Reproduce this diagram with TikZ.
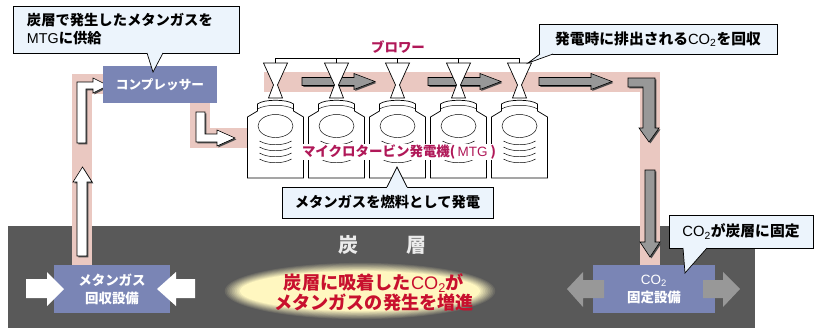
\documentclass[tikz,border=0pt]{standalone}
\usepackage{fontspec}
\setmainfont{Noto Sans CJK JP}
\newfontfamily\latin{Liberation Sans}
\usetikzlibrary{shadows}

\definecolor{unitblue}{RGB}{122,133,181}
\definecolor{bandpink}{RGB}{234,200,193}
\definecolor{seamgray}{RGB}{89,89,89}
\definecolor{notefill}{RGB}{236,244,252}
\definecolor{mtgred}{RGB}{176,24,88}
\definecolor{glowred}{RGB}{200,16,46}
\definecolor{glowyellow}{RGB}{255,247,192}
\definecolor{flowgray}{RGB}{152,152,152}

\begin{document}
\begin{tikzpicture}[x=0.03cm, y=-0.03cm, every node/.style={inner sep=0pt},
  band/.style={draw=bandpink, line width=0.6cm},
  unit/.style={fill=unitblue, text=white, align=center, font=\fontsize{11.5pt}{15.4pt}\selectfont\bfseries},
  note/.style={draw=black, fill=notefill, line width=0.6pt, align=center, font=\fontsize{12.2pt}{15.4pt}\selectfont\bfseries},
  wflow/.style={draw=black, fill=white, line width=0.5pt,
    drop shadow={shadow xshift=1.2pt, shadow yshift=-1.2pt, fill=black!70, opacity=1}},
  gflow/.style={wflow, fill=flowgray},
  mtg/.style={draw=black, fill=white, line width=0.6pt},
  tag/.style={text=mtgred, font=\fontsize{11.5pt}{14pt}\selectfont\bfseries}]
\useasboundingbox (0,0) rectangle (814,328);

% coal seam and glow
\fill[seamgray] (8,226) rectangle (755,328);
\foreach \k in {0,...,10}
  \fill[glowyellow!\k0!seamgray] (360,291) ellipse ({137-1.7*\k} and {29-0.9*\k});
\node[text=white!92!black, font=\fontsize{17pt}{20pt}\selectfont\bfseries] (seam) at (382.5,245) {炭\hspace{2.45em}層};
\node[text=glowred, align=center, font=\fontsize{15.5pt}{17pt}\selectfont\bfseries] (glowtxt) at (374,292)
  {炭層に吸着した{\latin\mdseries CO\textsubscript{2}}が\\メタンガスの発生を増進};

% gas and CO2 routes
\draw[band] (82,265) -- (82,84) -- (103,84);
\draw[band] (200,103) -- (200,137.5) -- (250,137.5);
\draw[band] (264,81.5) -- (650,81.5) -- (650,265);

\draw[wflow] (77,256) -- (77,182) -- (73,182) -- (82.5,167) -- (92,182) -- (87,182) -- (87,256) -- cycle;
\draw[wflow] (77,143) -- (77,82) -- (93,82) -- (93,78) -- (108,85.5) -- (93,93) -- (93,89) -- (86,89) -- (86,143) -- cycle;
\draw[wflow] (196,112) -- (196,142) -- (217,142) -- (217,146) -- (235,138) -- (217,130) -- (217,134) -- (205,134) -- (205,112) -- cycle;

\foreach \x in {302,428,539}
  \draw[gflow] (\x,77.5) -- ++(52,0) -- ++(0,-4) -- ++(21,8) -- ++(-21,8) -- ++(0,-4) -- ++(-52,0) -- cycle;
\draw[gflow] (628,78) -- (655,78) -- (655,128) -- (659,128) -- (649,142) -- (639,128) -- (643,128) -- (643,87) -- (628,87) -- cycle;
\draw[gflow] (645,170) -- (655,170) -- (655,242) -- (660,242) -- (650,257) -- (640,242) -- (645,242) -- cycle;

% microturbines and blowers
\draw (275.5,63) -- (275.5,58) -- (519.5,58) -- (519.5,63);
\foreach \c in {336.5,397.5,458.5}
  \draw (\c,58) -- (\c,63);
\foreach \c in {275.5,336.5,397.5,458.5,519.5} {
  \draw[mtg] (\c-28,178) -- (\c-28,117) -- (\c-18,111) -- (\c-18,104)
    .. controls (\c-12,99) and (\c+12,99) .. (\c+18,104) -- (\c+18,111) -- (\c+28,117) -- (\c+28,178) -- cycle;
  \draw (\c-18,109) .. controls (\c-10,104) and (\c+10,104) .. (\c+18,109);
  \draw (\c,126) ellipse (17.5 and 11.5);
  \foreach \y in {144,150,156,162}
    \draw (\c-16,\y-3) .. controls (\c-8,\y+2) and (\c+8,\y+2) .. (\c+16,\y-3);
  \draw[mtg] (\c-12,63) -- (\c+12,63) -- (\c+2,85) -- (\c+7,98) -- (\c-7,98) -- (\c-2,85) -- cycle;
}
\node[tag] (blowlbl) at (398,47) {ブロワー};
\node[tag, fill=white, inner sep=1pt] (mtglbl) at (399,152) {マイクロタービン発電機(\,{\latin\mdseries MTG}\ )};

% plant units
\node[unit, font=\fontsize{10.8pt}{13pt}\selectfont\bfseries, minimum width=3.42cm, minimum height=1.11cm] (comp) at (160,84.5) {コンプレッサー};
\node[unit, minimum width=3.48cm, minimum height=1.44cm] (gasrec) at (112,289) {メタンガス\\回収設備};
\node[unit, minimum width=3.66cm, minimum height=1.44cm] (co2fix) at (654,289) {{\latin\mdseries CO\textsubscript{2}}\\固定設備};

\fill[white] (26,279) -- (47,279) -- (47,272) -- (64,289) -- (47,306) -- (47,298) -- (26,298) -- cycle;
\fill[white] (195,279) -- (176,279) -- (176,272) -- (157,289) -- (176,306) -- (176,298) -- (195,298) -- cycle;
\fill[flowgray] (604,280) -- (583,280) -- (583,272) -- (567,289) -- (583,307) -- (583,298) -- (604,298) -- cycle;
\fill[flowgray] (703,280) -- (723,280) -- (723,272) -- (740,289) -- (723,307) -- (723,298) -- (703,298) -- cycle;

% callouts
\node[note, align=left, text width=5.94cm, inner xsep=0.42cm, minimum height=1.41cm] (note1) at (126,29.5)
  {炭層で発生したメタンガスを\\{\latin\mdseries MTG}に供給};
\fill[notefill] (147,52) -- (147,53) -- (153,72) -- (163,53) -- (163,52) -- cycle;
\draw[line width=0.6pt] (147,53) -- (153,72) -- (163,53);

\node[note, font=\fontsize{12.6pt}{15.4pt}\selectfont\bfseries, minimum width=7.14cm, minimum height=0.9cm] (note2) at (658,39)
  {発電時に排出される{\latin\mdseries CO\textsubscript{2}}を回収};
\fill[notefill] (540,53) -- (540,54) -- (528,63) -- (553,54) -- (553,53) -- cycle;
\draw[line width=0.6pt] (540,54) -- (528,63) -- (553,54);

\node[note, minimum width=6.33cm, minimum height=0.93cm] (note3) at (387.5,202.5) {メタンガスを燃料として発電};
\fill[notefill] (387,188) -- (387,187) -- (397,167) -- (407,187) -- (407,188) -- cycle;
\draw[line width=0.6pt] (387,187) -- (397,167) -- (407,187);

\node[note, font=\fontsize{12.6pt}{15.4pt}\selectfont\bfseries, minimum width=4.32cm, minimum height=0.99cm] (note4) at (741,231.5)
  {{\latin\mdseries CO\textsubscript{2}}が炭層に固定};
\fill[notefill] (683,247) -- (683,248) -- (685,273) -- (707,248) -- (707,247) -- cycle;
\draw[line width=0.6pt] (683,248) -- (685,273) -- (707,248);
\end{tikzpicture}
\end{document}
